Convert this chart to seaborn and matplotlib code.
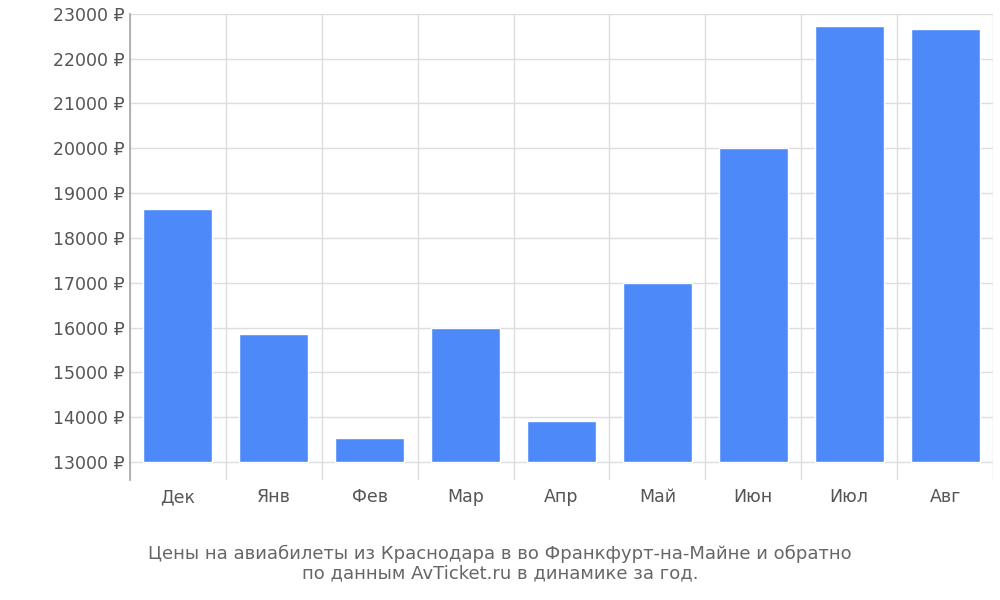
import matplotlib
matplotlib.use("Agg")
import matplotlib.pyplot as plt
import seaborn as sns
import pandas as pd

months = ["Дек", "Янв", "Фев", "Мар", "Апр", "Май", "Июн", "Июл", "Авг"]
prices = [18650, 15850, 13530, 15980, 13910, 17000, 20000, 22720, 22650]
base = 13000
yticks = list(range(13000, 23001, 1000))

sns.set_theme(style="white")
plt.rcParams['font.family'] = ['DejaVu Sans']

df = pd.DataFrame({"m": months, "h": [p - base for p in prices]})
fig = plt.figure(figsize=(10, 6), dpi=100)
ax = fig.add_axes([0.130, 0.20, 0.863, 0.777])
sns.barplot(data=df, x="m", y="h", ax=ax, color="#4d89f9", saturation=1,
            width=0.72, bottom=base, zorder=3)
ax.set_ylim(12600, 23000)
ax.set_xlim(-0.5, len(months) - 0.5)
ax.set_yticks(yticks)
ax.set_yticklabels([f"{v} ₽" for v in yticks], fontsize=12.5, color="#555555")
ax.tick_params(axis="x", labelsize=12.5, colors="#555555", length=0, pad=6)
ax.tick_params(axis="y", length=0, pad=4)
for v in yticks:
    ax.axhline(v, color="#dddddd", lw=1, zorder=1)
for i in range(len(months) + 1):
    ax.axvline(i - 0.5, color="#dddddd", lw=1, zorder=1)
for s in ["top", "right", "bottom"]:
    ax.spines[s].set_visible(False)
ax.spines["left"].set_color("#aaaaaa")
ax.set_xlabel("")
ax.set_ylabel("")
fig.text(0.5, 0.06, "Цены на авиабилеты из Краснодара в во Франкфурт-на-Майне и обратно\nпо данным AvTicket.ru в динамике за год.",
         ha="center", va="center", fontsize=13, color="#666666", linespacing=1.1)
fig.savefig("out.png")
